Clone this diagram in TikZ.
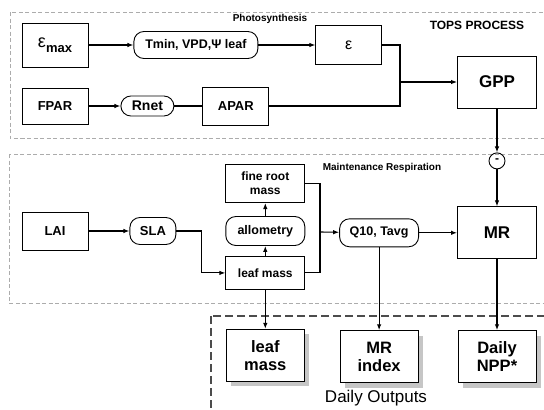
\documentclass[tikz,border=0pt]{standalone}
\usepackage{fontspec}
\setmainfont{Liberation Sans}
\usetikzlibrary{positioning,arrows.meta,calc,shadows}

\begin{document}
\begin{tikzpicture}[
			x=1pt,y=-1pt,
			node distance=40pt,
			box/.style={draw,line width=0.9pt,minimum width=66pt,minimum height=36pt,inner sep=1pt,font=\bfseries\fontsize{13}{14}\selectfont},
			bigbox/.style={draw,line width=0.9pt,minimum width=79pt,minimum height=52pt,font=\bfseries\fontsize{17}{18}\selectfont},
			midbox/.style={draw,line width=0.9pt,minimum width=79pt,inner sep=1pt,align=center,font=\bfseries\fontsize{12}{14}\selectfont},
			outbox/.style={draw,fill=white,line width=0.9pt,minimum width=78pt,minimum height=52pt,align=center,
				font=\bfseries\fontsize{16.5}{18}\selectfont,
				drop shadow={shadow xshift=5pt,shadow yshift=-5pt,fill=gray!45,opacity=1}},
			pill/.style={draw,line width=0.9pt,rounded corners=10pt,minimum height=27pt,inner sep=1pt,font=\bfseries\fontsize{12.5}{14}\selectfont},
			sign/.style={draw,circle,line width=0.9pt,minimum size=16pt,inner sep=0pt,font=\bfseries\fontsize{12}{12}\selectfont},
			region/.style={draw=gray!65,dash pattern=on 4pt off 2.5pt,line width=0.7pt},
			outregion/.style={draw=gray!60!black,dash pattern=on 8pt off 4pt,line width=1.1pt},
			tag/.style={font=\bfseries\fontsize{10}{11}\selectfont},
			link/.style={line width=1.1pt},
			>={Latex[length=6pt,width=4.5pt]}
			]
			
			\useasboundingbox (0,0) rectangle (544,410);
			
			\draw[region] (10,12) rectangle (550,138);
			\draw[region] (9,154) rectangle (550,303);
			\draw[outregion] (211,316) rectangle (550,420);
			
			\node[tag] (photo) at (270,19) {Photosynthesis};
			\node[font=\bfseries\fontsize{12}{13}\selectfont] (tops) at (477,25) {TOPS PROCESS};
			\node[tag] (maint) at (382,168) {Maintenance Respiration};
			\node[font=\fontsize{17}{18}\selectfont] (daily) at (376,398) {Daily Outputs};
			
			\node[box,minimum height=44pt] (emax) at (55,45)
			{{\mdseries\fontsize{18}{18}\selectfont ε}\raisebox{-5pt}{max}};
			
			\node[pill,minimum width=124pt,right=45pt of emax] (tmin)
			{Tmin, VPD,Ψ leaf};
			
			\node[box,minimum height=39pt,right=57pt of tmin] (eps)
			{\mdseries\fontsize{16}{16}\selectfont ε};
			
			\node[box] (fpar) at (55,106) {FPAR};
			
			\node[pill,minimum width=53pt,minimum height=20pt,right=32pt of fpar,font=\bfseries\fontsize{14}{14}\selectfont] (rnet) {Rnet};
			
			\node[box,minimum height=38pt,right=28pt of rnet] (apar) {APAR};
			
			\node[bigbox] (gpp) at (497,82) {GPP};
			
			\node[sign,below=44pt of gpp] (minus) {-};
			
			\node[bigbox,below=37pt of minus] (mr) {MR};
			
			\node[pill,minimum width=79pt,minimum height=28pt,left=38pt of mr] (q10) {Q10, Tavg};
			
			\node[box,minimum height=38pt] (lai) at (55,231) {LAI};
			
			\node[pill,minimum width=46pt,right=41pt of lai,font=\bfseries\fontsize{13}{14}\selectfont] (sla) {SLA};
			
			\node[pill,minimum width=79pt,minimum height=29pt,right=49pt of sla] (allom) {allometry};
			
			\node[midbox,minimum height=38pt,above=13pt of allom] (fine) {fine root\\mass};
			
			\node[midbox,minimum height=33pt,below=10pt of allom] (leafm) {leaf mass};
			
			\node[outbox,below=39pt of leafm] (outleaf) {leaf\\mass};
			
			\node[outbox,below=83pt of q10] (outmr) {MR\\index};
			
			\node[outbox,below=71pt of mr] (outnpp) {Daily\\NPP*};
			
			\coordinate (jp) at (400,82);
			\coordinate (jm) at (320,232);
			
			\draw[link,->] (emax)--(tmin);
			\draw[link,->] (tmin)--(eps);
			\draw[link] (eps.east) -| (jp);
			\draw[link] (apar.east) -| (jp);
			\draw[link,->] (jp)--(gpp);
			\draw[link,->] (fpar)--(rnet);
			\draw[link] (rnet)--(apar);
			\draw[link,->] (gpp)--(minus);
			\draw[link,->] (minus)--(mr);
			
			\draw[link,->] (lai)--(sla);
			\draw[link,->] (sla.east) -- ++(25,0) |- (leafm.west);
			\draw[link,->] (leafm)--(allom);
			\draw[link,->] (allom)--(fine);
			\draw[link] (fine.east) -| (jm);
			\draw[link] (leafm.east) -| (jm);
			\draw[link,->] (jm)--(q10);
			\draw[link,->] (q10)--(mr);
			
			\draw[link,->] (leafm)--(outleaf);
			\draw[link,->] (q10)--(outmr);
			\draw[link,->] (mr)--(outnpp);
			
		\end{tikzpicture}
\end{document}
